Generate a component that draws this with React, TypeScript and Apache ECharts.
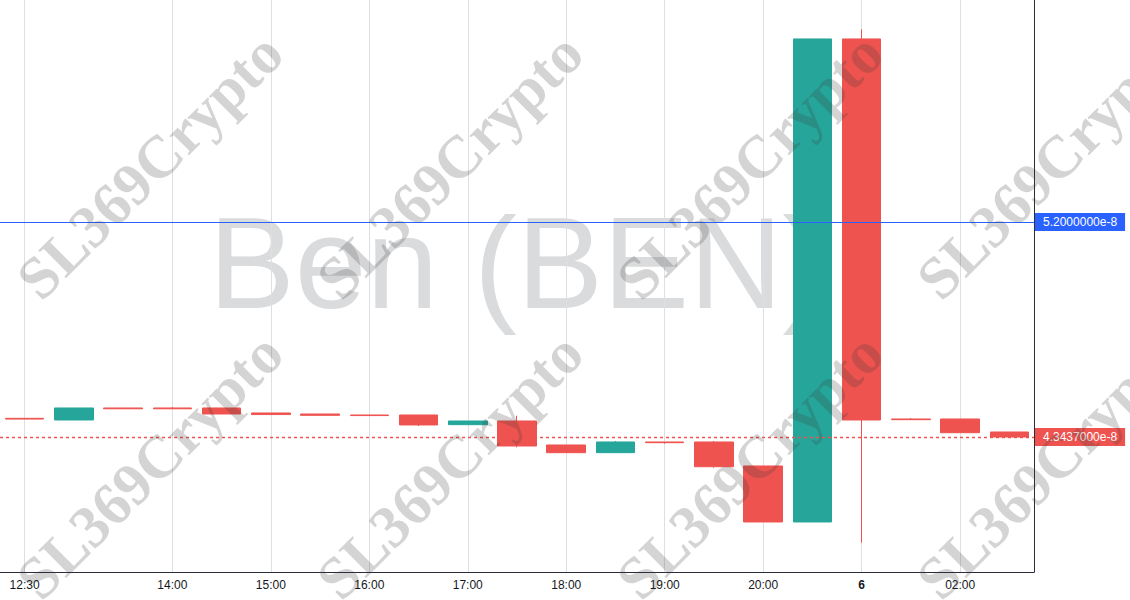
import React, { useEffect, useRef } from "react";
import * as echarts from "echarts";

// Prices in units of 1e-8
const times = ["12:30","13:00","13:30","14:00","14:30","15:00","15:30","16:00","16:30","17:00","17:30","18:00","18:30","19:00","19:30","20:00","20:30","6","01:30","02:00","02:30"];
const tickLabels = ["12:30","14:00","15:00","16:00","17:00","18:00","19:00","20:00","6","02:00"];
const opens  = [4.4180, 4.4114, 4.4592, 4.4592, 4.4592, 4.4393, 4.4353, 4.4313, 4.4313, 4.3927, 4.4074, 4.3118, 4.2812, 4.3238, 4.3238, 4.2282, 4.0052, 5.9289, 4.4154, 4.4154, 4.3636];
const closes = [4.4150, 4.4592, 4.4560, 4.4560, 4.4353, 4.4330, 4.4300, 4.4290, 4.3915, 4.4074, 4.3078, 4.2812, 4.3238, 4.3210, 4.2254, 4.0052, 5.9289, 4.4114, 4.4126, 4.3608, 4.3437];
const lows   = [4.4150, 4.4114, 4.4560, 4.4560, 4.4353, 4.4330, 4.4300, 4.4290, 4.3875, 4.3927, 4.3026, 4.2812, 4.2812, 4.3170, 4.2214, 4.0052, 4.0052, 3.9227, 4.4126, 4.3608, 4.3437];
const highs  = [4.4180, 4.4592, 4.4592, 4.4632, 4.4592, 4.4393, 4.4353, 4.4313, 4.4313, 4.4074, 4.4285, 4.3118, 4.3278, 4.3238, 4.3278, 4.2282, 5.9289, 5.9675, 4.4194, 4.4154, 4.3636];
const markedPrice = 5.2;
const lastPrice = 4.3437;
const yMin = 3.806;
const yMax = 6.084;
const title = "Ben (BEN)";
const watermark = "SL369Crypto";

const UP = "#26a69a";
const DOWN = "#ef5350";
const BLUE = "#2962ff";
const fmt = (v: number) => v.toFixed(7) + "e-8";

export default function App() {
  const ref = useRef<HTMLDivElement>(null);
  useEffect(() => {
    if (!ref.current) return;
    const chart = echarts.init(ref.current, undefined, { renderer: "svg" });
    const data = opens.map((o, i) => [o, closes[i], lows[i], highs[i]]);
    const wmPositions: [number, number][] = [];
    for (const y of [166, 466]) for (const x of [150, 450, 750, 1050]) wmPositions.push([x, y]);
    const gridLineData = tickLabels.map((t) => ({ xAxis: times.indexOf(t) }));
    const labelStyle = (bg: string) => ({
      show: true,
      position: "end",
      distance: 1,
      formatter: (p: any) => fmt(Number(p.value)),
      backgroundColor: bg,
      color: "#ffffff",
      fontSize: 12,
      fontFamily: "Liberation Sans, Arial, sans-serif",
      padding: [3, 8, 2, 8],
      lineHeight: 13,
    });
    chart.setOption({
      animation: false,
      backgroundColor: "#ffffff",
      grid: { left: 0, top: 0, right: 96, bottom: 28 },
      xAxis: {
        type: "category",
        data: times,
        boundaryGap: true,
        axisLine: { show: true, lineStyle: { color: "#2a2e39", width: 1 } },
        axisTick: { show: false },
        splitLine: { show: false },
        axisLabel: {
          interval: (_i: number, v: string) => tickLabels.includes(v),
          margin: 7,
          color: "#131722",
          fontSize: 12,
          fontFamily: "Liberation Sans, Arial, sans-serif",
          formatter: (v: string) => (v === "6" ? "{b|6}" : v),
          rich: { b: { fontWeight: "bold", fontSize: 12, color: "#131722" } },
        },
      },
      yAxis: {
        type: "value",
        position: "right",
        min: yMin,
        max: yMax,
        axisLine: { show: true, lineStyle: { color: "#2a2e39", width: 1 } },
        axisTick: { show: false },
        axisLabel: { show: false },
        splitLine: { show: false },
      },
      graphic: [
        {
          type: "text",
          x: 517,
          y: 263,
          z: 0,
          silent: true,
          style: {
            text: title,
            fontSize: 129,
            fontFamily: "Liberation Sans, Arial, sans-serif",
            fill: "#dadbdd",
            align: "center",
            verticalAlign: "middle",
          },
        },
        ...wmPositions.map(([x, y]) => ({
          type: "text",
          x,
          y,
          rotation: Math.PI / 4,
          z: 100,
          silent: true,
          style: {
            text: watermark,
            fontSize: 60,
            fontWeight: "bold",
            fontFamily: "Liberation Serif, Times New Roman, serif",
            fill: "rgba(60,60,60,0.22)",
            align: "center",
            verticalAlign: "middle",
          },
        })),
      ],
      series: [
        {
          type: "line",
          data: [],
          z: 1,
          silent: true,
          markLine: {
            z: 1,
            silent: true,
            symbol: ["none", "none"],
            animation: false,
            label: { show: false },
            lineStyle: { color: "#dcdfe4", type: "solid", width: 1 },
            data: gridLineData,
          },
        },
        {
          type: "line",
          data: [],
          z: 5,
          silent: true,
          markLine: {
            z: 5,
            silent: true,
            precision: 7,
            symbol: ["none", "none"],
            animation: false,
            label: labelStyle(BLUE),
            lineStyle: { color: BLUE, type: "solid", width: 1, opacity: 1 },
            data: [{ yAxis: markedPrice }],
          },
        },
        {
          type: "line",
          data: [],
          z: 5,
          silent: true,
          markLine: {
            z: 5,
            silent: true,
            precision: 7,
            symbol: ["none", "none"],
            animation: false,
            label: labelStyle(DOWN),
            lineStyle: { color: DOWN, type: [3, 3], width: 1.3, opacity: 1 },
            data: [{ yAxis: lastPrice }],
          },
        },
        {
          type: "candlestick",
          data,
          z: 3,
          barWidth: 39,
          itemStyle: {
            color: UP,
            color0: DOWN,
            borderColor: UP,
            borderColor0: DOWN,
            borderWidth: 1,
          },
        },
      ],
    });
    return () => chart.dispose();
  }, []);
  return (
    <div
      ref={ref}
      style={{ position: "fixed", left: 0, top: 0, width: 1130, height: 600 }}
    />
  );
}
